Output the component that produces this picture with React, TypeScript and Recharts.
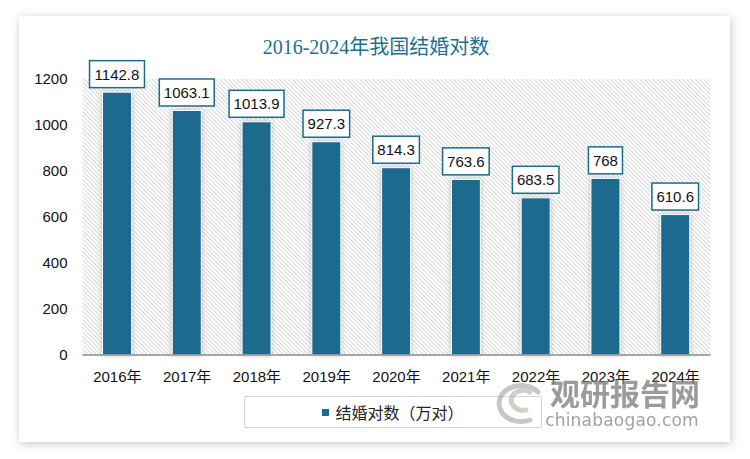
import { BarChart, Bar, XAxis, YAxis, ReferenceArea, LabelList } from 'recharts'

const TITLE = '2016-2024年我国结婚对数'
const SERIES_NAME = '结婚对数（万对）'
const YEARS = ['2016年', '2017年', '2018年', '2019年', '2020年', '2021年', '2022年', '2023年', '2024年']
const MARRIAGES = [1142.8, 1063.1, 1013.9, 927.3, 814.3, 763.6, 683.5, 768, 610.6]
const Y_TICKS = [0, 200, 400, 600, 800, 1000, 1200]

const BAR = '#1c6a8e'
const TEXT_FONT = '"Liberation Sans", "Noto Sans CJK SC", sans-serif'

const data = YEARS.map((year, i) => ({ year, value: MARRIAGES[i] }))

// boxed value label above each bar
// eslint-disable-next-line @typescript-eslint/no-explicit-any
function BoxLabel(props: any) {
  const { x, y, width, value } = props
  const text = String(value)
  const tw = text.split('').reduce((s: number, c: string) => s + (c === '.' ? 4.2 : 8.35), 0)
  const bw = tw + 9
  const bh = 27
  const cx = x + width / 2
  const top = y - 4.5 - bh
  return (
    <g>
      <rect x={cx - bw / 2} y={top} width={bw} height={bh} fill="#fff" stroke={BAR} strokeWidth={1.5} />
      <text x={cx} y={top + bh / 2} dy="0.36em" textAnchor="middle" fontSize={15} fill="#111" fontFamily={TEXT_FONT}>
        {text}
      </text>
    </g>
  )
}

// eslint-disable-next-line @typescript-eslint/no-explicit-any
function ShadowBar(props: any) {
  const { x, y, width, height } = props
  return (
    <rect x={x} y={y} width={width} height={height} fill={BAR} stroke="#fff" strokeWidth={1}
      filter="url(#barShadow)" />
  )
}

export default function App() {
  return (
    <div style={{ position: 'absolute', left: 0, top: 0, width: 750, height: 459, background: '#fff', overflow: 'hidden' }}>
      {/* card */}
      <div style={{
        position: 'absolute', left: 19, top: 16, width: 711, height: 426, background: '#fff',
        boxShadow: '1px 2px 9px rgba(0,0,0,0.22)',
      }} />

      <div style={{
        position: 'absolute', left: 0, top: 31, width: 752, textAlign: 'center',
        fontFamily: '"Liberation Serif", "Noto Sans CJK SC", serif', fontSize: 20, color: '#1e6f94',
      }}>
        {TITLE}
      </div>

      <div style={{ position: 'absolute', left: 0, top: 0 }}>
        <BarChart width={750} height={459} data={data} margin={{ top: 79, right: 39.5, bottom: 74, left: 0 }}>
          <defs>
            <pattern id="hatch" patternUnits="userSpaceOnUse" width={3} height={3} patternTransform="rotate(-45)">
              <rect width={3} height={3} fill="#fff" />
              <line x1={0} y1={0} x2={0} y2={3} stroke="#bdbdbd" strokeWidth={1.2} />
            </pattern>
            <filter id="barShadow" x="-40%" y="-10%" width="180%" height="120%">
              <feDropShadow dx={0} dy={0} stdDeviation={2.5} floodColor="#8a8a8a" floodOpacity={0.55} />
            </filter>
          </defs>
          <ReferenceArea y1={0} y2={1200} fill="url(#hatch)" fillOpacity={1} stroke="none" />
          <XAxis
            dataKey="year"
            axisLine={{ stroke: '#8c8c8c', strokeWidth: 1.5 }}
            tickLine={false}
            tickSize={0}
            tickMargin={16}
            height={30}
            interval={0}
            tick={{ fill: '#111', fontSize: 15, fontFamily: TEXT_FONT }}
          />
          <YAxis
            domain={[0, 1200]}
            ticks={Y_TICKS}
            width={82.5}
            axisLine={false}
            tickLine={false}
            tickSize={0}
            tickMargin={15}
            tick={{ fill: '#111', fontSize: 15, fontFamily: TEXT_FONT }}
          />
          <Bar dataKey="value" name={SERIES_NAME} fill={BAR} barSize={29} shape={<ShadowBar />} isAnimationActive={false}>
            <LabelList dataKey="value" content={<BoxLabel />} />
          </Bar>
        </BarChart>
      </div>

      {/* legend */}
      <div style={{
        position: 'absolute', left: 244, top: 396, width: 298, height: 32, boxSizing: 'border-box',
        border: '1px solid #d6d6d6', background: '#fff',
        display: 'flex', alignItems: 'center', justifyContent: 'center', gap: 6,
        fontFamily: TEXT_FONT, fontSize: 16, color: '#222',
      }}>
        <span style={{ width: 7, height: 7, background: BAR, display: 'inline-block' }} />
        <span>{SERIES_NAME}</span>
      </div>

      {/* watermark */}
      <svg width={750} height={459} style={{ position: 'absolute', left: 0, top: 0, pointerEvents: 'none' }}>
        <g opacity={0.55} fill="none" stroke="#9a9a9a" strokeWidth={5} strokeLinecap="round">
          <path d="M 538 392 A 22 18 0 1 0 530 420" />
          <path d="M 530 392 A 12 10 0 1 0 526 410" stroke="#b0a898" />
        </g>
        <text x={625} y={405} textAnchor="middle" fontSize={30} fontWeight="bold" fill="#7a7a7a" opacity={0.75}
          fontFamily='"Noto Sans CJK SC", sans-serif'>观研报告网</text>
        <text x={622} y={426} textAnchor="middle" fontSize={17} fill="#8a8a8a" opacity={0.8}
          fontFamily='"DejaVu Sans", sans-serif' letterSpacing={0.2}>chinabaogao.com</text>
      </svg>
    </div>
  )
}
